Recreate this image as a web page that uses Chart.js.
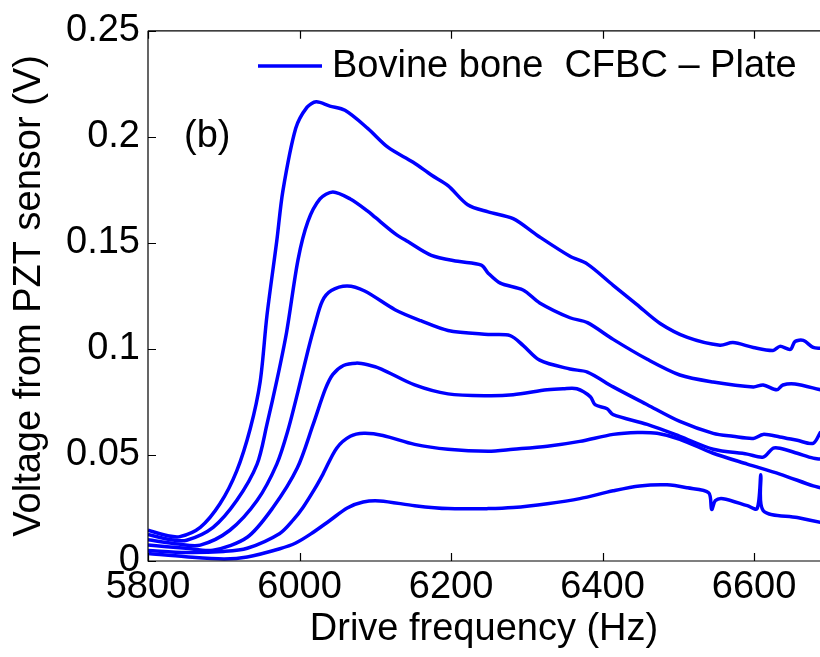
<!DOCTYPE html>
<html>
<head>
<meta charset="utf-8">
<script src="https://cdn.jsdelivr.net/npm/chart.js@4.4.1/dist/chart.umd.min.js"></script>
<style>
  html, body { margin: 0; padding: 0; background: #fff; }
  #wrap { width: 820px; height: 657px; position: relative; }
</style>
</head>
<body>
<div id="wrap"><canvas id="lineChart"></canvas></div>
<script>
// frequencies (Hz) and voltages (V), one pair of arrays per curve
const f1 = [5800, 5825, 5842, 5869, 5895, 5917, 5935, 5948, 5957, 5970, 5978, 5995, 6010, 6022, 6040, 6060, 6090, 6117, 6150, 6174, 6196, 6222, 6249, 6282, 6314, 6357, 6380, 6414, 6445, 6476, 6512, 6555, 6572, 6599, 6625, 6634, 6648, 6654, 6665, 6678, 6688];
const v1 = [0.0145, 0.012, 0.0115, 0.0159, 0.027, 0.0424, 0.0625, 0.0844, 0.1157, 0.151, 0.1744, 0.204, 0.214, 0.2165, 0.2145, 0.2125, 0.204, 0.195, 0.188, 0.182, 0.177, 0.168, 0.1646, 0.1614, 0.1535, 0.1437, 0.140, 0.130, 0.121, 0.112, 0.1054, 0.1017, 0.103, 0.1007, 0.0993, 0.1012, 0.0998, 0.1035, 0.104, 0.1007, 0.1003];

const f2 = [5800, 5830, 5851, 5886, 5917, 5944, 5957, 5970, 5983, 5998, 6011, 6027, 6044, 6067, 6090, 6100, 6126, 6143, 6174, 6209, 6240, 6249, 6265, 6295, 6317, 6357, 6380, 6414, 6459, 6502, 6546, 6599, 6612, 6630, 6638, 6654, 6688];
const v2 = [0.0125, 0.010, 0.0098, 0.0159, 0.0285, 0.0457, 0.0644, 0.085, 0.108, 0.142, 0.160, 0.1707, 0.174, 0.1707, 0.165, 0.162, 0.1544, 0.1506, 0.1441, 0.1413, 0.1395, 0.1357, 0.131, 0.1278, 0.1217, 0.1147, 0.1124, 0.1045, 0.0951, 0.0877, 0.0844, 0.0821, 0.083, 0.0807, 0.083, 0.0835, 0.0807];

const f3 = [5800, 5840, 5869, 5908, 5944, 5970, 5985, 5998, 6011, 6020, 6030, 6042, 6063, 6086, 6126, 6160, 6196, 6249, 6278, 6295, 6317, 6357, 6380, 6414, 6459, 6502, 6546, 6572, 6599, 6612, 6634, 6657, 6678, 6688];
const v3 = [0.010, 0.008, 0.0075, 0.0145, 0.0285, 0.0457, 0.062, 0.080, 0.099, 0.111, 0.1225, 0.1275, 0.1297, 0.1273, 0.1185, 0.1133, 0.1087, 0.1068, 0.1063, 0.1017, 0.0947, 0.0905, 0.0891, 0.0821, 0.0737, 0.0658, 0.0602, 0.0588, 0.0578, 0.0597, 0.0585, 0.0569, 0.0555, 0.061];

const f4 = [5800, 5850, 5886, 5931, 5965, 5997, 6018, 6034, 6044, 6058, 6075, 6090, 6108, 6152, 6196, 6249, 6282, 6327, 6348, 6366, 6384, 6390, 6406, 6414, 6459, 6502, 6546, 6591, 6612, 6625, 6634, 6657, 6678, 6688];
const v4 = [0.0075, 0.006, 0.0051, 0.0112, 0.0252, 0.0438, 0.0644, 0.081, 0.088, 0.0922, 0.0933, 0.0925, 0.0905, 0.083, 0.0788, 0.0779, 0.0784, 0.0807, 0.0812, 0.0812, 0.0774, 0.0737, 0.0718, 0.069, 0.0644, 0.0588, 0.0527, 0.0504, 0.049, 0.0532, 0.0532, 0.0508, 0.0485, 0.048];

const f5 = [5800, 5850, 5900, 5931, 5974, 5992, 6005, 6020, 6031, 6049, 6067, 6085, 6110, 6152, 6196, 6249, 6282, 6327, 6370, 6414, 6446, 6472, 6502, 6546, 6591, 6634, 6678, 6688];
const v5 = [0.005, 0.004, 0.0045, 0.006, 0.013, 0.0195, 0.0255, 0.034, 0.041, 0.0532, 0.0588, 0.0602, 0.0592, 0.055, 0.0527, 0.0518, 0.0527, 0.0541, 0.0564, 0.0597, 0.0606, 0.0602, 0.0574, 0.0508, 0.0457, 0.041, 0.0354, 0.0345];

const f6 = [5800, 5850, 5900, 5931, 5974, 5995, 6015, 6040, 6063, 6084, 6106, 6152, 6196, 6249, 6282, 6327, 6370, 6414, 6449, 6485, 6512, 6540, 6544, 6549, 6559, 6591, 6604, 6609, 6612, 6657, 6688];
const v6 = [0.0035, 0.002, 0.001, 0.0019, 0.0058, 0.0085, 0.0128, 0.0191, 0.025, 0.0278, 0.0283, 0.0261, 0.0247, 0.0247, 0.0252, 0.027, 0.0294, 0.0331, 0.0354, 0.0359, 0.0345, 0.0322, 0.0243, 0.0285, 0.0294, 0.0261, 0.0247, 0.0406, 0.0238, 0.0205, 0.0182];

const seriesLabel = 'Bovine bone  CFBC \u2013 Plate';
const panelLabel = '(b)';
const xTicks = [5800, 6000, 6200, 6400, 6600];
const yTicks = [0, 0.05, 0.1, 0.15, 0.2, 0.25];

const freqs = [f1, f2, f3, f4, f5, f6];
const volts = [v1, v2, v3, v4, v5, v6];

const datasets = freqs.map((f, i) => ({
    label: seriesLabel,
    data: f.map((x, j) => ({ x: x, y: volts[i][j] })),
    borderColor: '#0000ff',
    borderWidth: 3.5,
    pointRadius: 0,
    tension: 0.3,
    fill: false
}));

// box, inward ticks, legend and panel tag, drawn the MATLAB way
const framePlugin = {
    id: 'frame',
    afterDraw(chart) {
        const ctx = chart.ctx;
        const a = chart.chartArea;
        const x = chart.scales.x, y = chart.scales.y;
        ctx.save();
        ctx.strokeStyle = '#000';
        ctx.lineWidth = 1.2;
        ctx.beginPath();
        ctx.moveTo(a.left, a.top); ctx.lineTo(820, a.top);
        ctx.moveTo(a.left, a.top); ctx.lineTo(a.left, a.bottom); ctx.lineTo(820, a.bottom);
        xTicks.forEach(t => {
            const px = Math.round(x.getPixelForValue(t)) + 0.5;
            ctx.moveTo(px, a.bottom); ctx.lineTo(px, a.bottom - 8);
            ctx.moveTo(px, a.top); ctx.lineTo(px, a.top + 8);
        });
        yTicks.forEach(t => {
            const py = Math.round(y.getPixelForValue(t)) + 0.5;
            ctx.moveTo(a.left, py); ctx.lineTo(a.left + 8, py);
        });
        ctx.stroke();

        // legend
        ctx.strokeStyle = '#0000ff';
        ctx.lineWidth = 3.5;
        ctx.beginPath();
        ctx.moveTo(258, 66); ctx.lineTo(322, 66);
        ctx.stroke();
        ctx.fillStyle = '#000';
        ctx.font = '38px "Liberation Sans", Arial, sans-serif';
        ctx.textBaseline = 'middle';
        ctx.textAlign = 'left';
        ctx.fillText(seriesLabel, 332, 67);
        ctx.fillText(panelLabel, 184, 137);
        ctx.restore();
    }
};

const tickFont = { family: '"Liberation Sans", Arial, sans-serif', size: 38 };

new Chart(document.getElementById('lineChart'), {
    type: 'line',
    data: { datasets: datasets },
    options: {
        responsive: true,
        maintainAspectRatio: false,
        animation: false,
        layout: { padding: { top: 26, right: 0, left: 0, bottom: 0 } },
        plugins: {
            legend: { display: false },
            tooltip: { enabled: false }
        },
        scales: {
            x: {
                type: 'linear',
                min: 5800,
                max: 6687,
                grid: { display: false, drawTicks: false },
                border: { display: false },
                ticks: {
                    stepSize: 200,
                    includeBounds: false,
                    padding: 4,
                    color: '#000',
                    font: tickFont,
                    maxRotation: 0,
                    autoSkip: false,
                    callback: v => String(v)
                },
                title: {
                    display: true,
                    text: 'Drive frequency (Hz)',
                    color: '#000',
                    font: tickFont,
                    padding: { top: 0, bottom: 5 }
                },
                afterFit: s => { s.height = 96; }
            },
            y: {
                min: 0,
                max: 0.25,
                grid: { display: false, drawTicks: false },
                border: { display: false },
                ticks: {
                    stepSize: 0.05,
                    padding: 8,
                    color: '#000',
                    font: tickFont,
                    callback: v => String(Number(v.toFixed(2)))
                },
                title: {
                    display: true,
                    text: 'Voltage from PZT sensor (V)',
                    color: '#000',
                    font: tickFont,
                    padding: { top: 7, bottom: 0 }
                },
                afterFit: s => { s.width = 148; }
            }
        }
    },
    plugins: [framePlugin]
});
</script>
</body>
</html>
